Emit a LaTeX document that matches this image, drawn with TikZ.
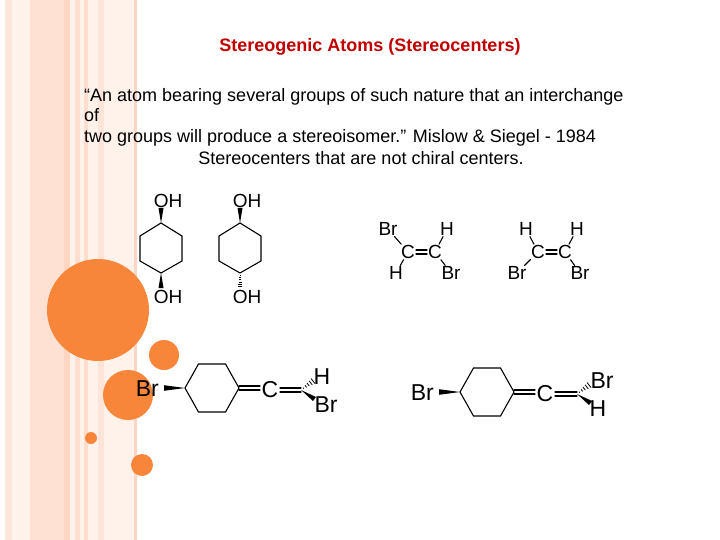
\documentclass[tikz,border=0pt]{standalone}
\usepackage{fontspec}
\setmainfont{Liberation Sans}
\newcommand\lblfnt{\fontsize{19}{19}\selectfont}
\newcommand\bigfnt{\fontsize{23}{23}\selectfont}
\begin{document}
\begin{tikzpicture}[x=1pt,y=-1pt,
  bond/.style={line width=1.1pt,line cap=round},
  lbl/.style={font=\lblfnt,inner sep=0pt},
  big/.style={font=\bigfnt,inner sep=0pt},
  stripe/.style={fill=red!40!orange!25}]
\useasboundingbox (0,0) rectangle (720,540);
% stripes
\fill[red!30!orange!8] (5,0) rectangle (135,540);
\fill[stripe,opacity=.35] (5,0) rectangle (12,540);
\fill[stripe,opacity=.5] (30,0) rectangle (64,540);
\fill[stripe,opacity=.9] (64,0) rectangle (70,540);
\fill[stripe,opacity=.6] (75,0) rectangle (80,540);
\fill[stripe,opacity=.6] (84,0) rectangle (88,540);
\fill[stripe,opacity=.4] (98,0) rectangle (104,540);
\fill[stripe,opacity=.9] (134,0) rectangle (137,540);
% circles
\fill[color={rgb,255:red,247;green,134;blue,59}] (98,310) circle (51);
\fill[color={rgb,255:red,247;green,134;blue,59}] (164,355) circle (15);
\fill[color={rgb,255:red,247;green,134;blue,59}] (128,395) circle (25);
\fill[color={rgb,255:red,247;green,134;blue,59}] (91,438) circle (6);
\fill[color={rgb,255:red,247;green,134;blue,59}] (142,465) circle (11);
% texts
\node[font=\bfseries\fontsize{18}{18}\selectfont,text={rgb,255:red,192;green,0;blue,0}] (title) at (370,47) {Stereogenic Atoms (Stereocenters)};
\node[anchor=north west,align=left,font=\fontsize{18}{20.5}\selectfont,inner sep=0pt] (quote) at (84,88)
 {“An atom bearing several groups of such nature that an interchange\\of\\two groups will produce a stereoisomer.” Mislow \& Siegel - 1984};
\node[font=\fontsize{18}{18}\selectfont,inner sep=0pt] (sub) at (361,158) {Stereocenters that are not chiral centers.};
% cyclohexanediols
\foreach \cx/\nm in {161/a,240/b}{
  \draw[bond] (\cx,223) -- (\cx+21,236) -- (\cx+21,261) -- (\cx,273) -- (\cx-21,261) -- (\cx-21,236) -- cycle;
  \node[lbl] (\nm top) at (\cx+7,201) {OH};
  \node[lbl] (\nm bot) at (\cx+7,297) {OH};
  \fill (\cx,223) -- (\cx-2.5,208) -- (\cx+2.5,208) -- cycle;
}
\fill (161,273) -- (158.5,288) -- (163.5,288) -- cycle;
\foreach \t in {0.15,0.3,...,0.95}
  \draw[line width=0.8pt] (240-2.5*\t,273+15*\t) -- (240+2.5*\t,273+15*\t);
% alkenes
\foreach \k/\dx/\a/\ax/\b/\bx/\c/\cxx/\d/\dxx in {1/0/Br/388/H/447/H/396/Br/451, 2/130/H/526/H/577/Br/517/Br/580}{
  \node[lbl] (ca\k) at (408+\dx,252) {C};
  \node[lbl] (cb\k) at (435+\dx,252) {C};
  \draw[bond] (416+\dx,250) -- (427+\dx,250);
  \draw[bond] (416+\dx,254) -- (427+\dx,254);
  \node[lbl] (ul\k) at (\ax,229) {\a};
  \node[lbl] (ur\k) at (\bx,229) {\b};
  \node[lbl] (ll\k) at (\cxx,273) {\c};
  \node[lbl] (lr\k) at (\dxx,273) {\d};
  \draw[bond,shorten <=1pt,shorten >=1pt] (ca\k) -- (ul\k); \draw[bond,shorten <=1pt,shorten >=1pt] (cb\k) -- (ur\k);
  \draw[bond,shorten <=1pt,shorten >=1pt] (ca\k) -- (ll\k); \draw[bond,shorten <=1pt,shorten >=1pt] (cb\k) -- (lr\k);
}
% bottom allenes
\foreach \cx/\cy in {212/388,487/392}{
  \draw[bond] (\cx-27,\cy) -- (\cx-13.5,\cy-24) -- (\cx+13.5,\cy-24) -- (\cx+27,\cy) -- (\cx+13.5,\cy+24) -- (\cx-13.5,\cy+24) -- cycle;
  \draw[bond] (\cx+27,\cy-2) -- (\cx+48,\cy-2); \draw[bond] (\cx+27,\cy+2) -- (\cx+48,\cy+2);
  \fill (\cx-27,\cy) -- (\cx-48,\cy-2.8) -- (\cx-48,\cy+2.8) -- cycle;
}
\node[big] (c1) at (270,390) {C};
\node[big] (c2) at (545,394) {C};
\node[big,anchor=east] (brL1) at (159,389) {Br};
\node[big,anchor=east] (brL2) at (434,393) {Br};
\draw[bond] (280,388) -- (301,388); \draw[bond] (280,392) -- (301,392);
\draw[bond] (555,392) -- (577,392); \draw[bond] (555,396) -- (577,396);
\node[big] (hT1) at (322,377) {H};
\node[big] (brT1) at (326,405) {Br};
\node[big] (brT2) at (602,381) {Br};
\node[big] (hT2) at (598,409) {H};
\foreach \ox/\oy in {301/390,577/394}{
  \foreach \t in {0.2,0.4,0.6,0.8,1.0}
    \draw[line width=0.8pt] (\ox+12*\t-2*\t,\oy-9*\t-2.5*\t) -- (\ox+12*\t+2*\t,\oy-9*\t+2.5*\t);
  \fill (\ox,\oy) -- (\ox+12,\oy+11) -- (\ox+15,\oy+7) -- cycle;
}
\end{tikzpicture}
\end{document}
